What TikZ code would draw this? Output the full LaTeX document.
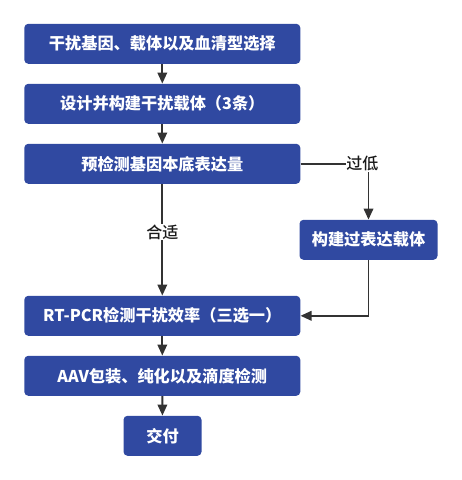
\documentclass[tikz,border=0pt]{standalone}
\usepackage{fontspec}
\setmainfont{Noto Sans CJK SC}
\newfontfamily\labelfont{Noto Sans CJK SC Medium}
\usepackage{tikz}
\usetikzlibrary{arrows.meta,positioning}
\definecolor{boxblue}{HTML}{3049A1}
\definecolor{linegray}{HTML}{333333}
\definecolor{labelblack}{HTML}{1A1A1A}

\begin{document}
\begin{tikzpicture}[x=1pt,y=-1pt,
    stepbox/.style={fill=boxblue,rounded corners=4pt,text=white,font=\bfseries\fontsize{16.2}{18}\selectfont,
      minimum height=40pt,inner sep=0pt},
    flow/.style={-{Triangle[length=11pt,width=9.5pt]},line width=1.9pt,linegray},
    branch/.style={fill=white,inner sep=0.5pt,text=labelblack,font=\labelfont\fontsize{16}{18}\selectfont}]
    \useasboundingbox (0,0) rectangle (462,480);
    \node[stepbox,minimum width=276pt] (select) at (162.3,43.8) {干扰基因、载体以及血清型选择};
    \node[stepbox,minimum width=276pt] (design) at (162.3,103.8) {设计并构建干扰载体（3条）};
    \node[stepbox,minimum width=276pt] (detect) at (162.3,163.8) {预检测基因本底表达量};
    \node[stepbox,minimum width=138pt] (over) at (368.5,239.8) {构建过表达载体};
    \node[stepbox,minimum width=276pt] (rtpcr) at (162.3,315.8) {RT-PCR检测干扰效率（三选一）};
    \node[stepbox,minimum width=276pt] (aav) at (162.3,375.8) {AAV包装、纯化以及滴度检测};
    \node[stepbox,minimum width=78pt] (deliver) at (162.5,435.8) {交付};
    \draw[flow] (select) -- (design);
    \draw[flow] (design) -- (detect);
    \draw[flow] (detect) -- node[branch,pos=0.43] {合适} (rtpcr);
    \draw[flow] (detect) -| node[branch,pos=0.455] {过低} (over);
    \draw[flow] (over) |- (rtpcr);
    \draw[flow] (rtpcr) -- (aav);
    \draw[flow] (aav) -- (deliver);
  \end{tikzpicture}
\end{document}
